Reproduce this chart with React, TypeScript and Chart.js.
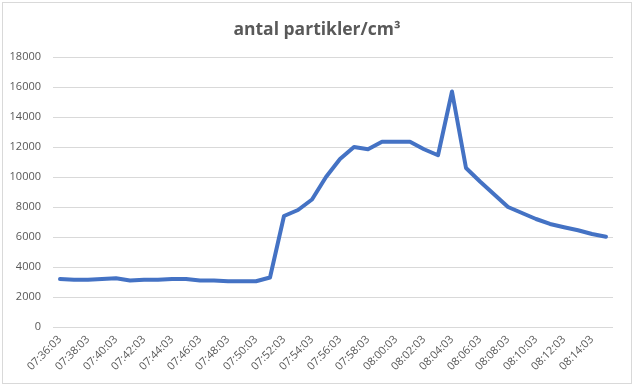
import React, { useEffect, useRef } from "react";
import { Chart, registerables } from "chart.js";

Chart.register(...registerables);

const times: string[] = [
  "07:36:03", "07:37:03", "07:38:03", "07:39:03", "07:40:03", "07:41:03", "07:42:03", "07:43:03",
  "07:44:03", "07:45:03", "07:46:03", "07:47:03", "07:48:03", "07:49:03", "07:50:03", "07:51:03",
  "07:52:03", "07:53:03", "07:54:03", "07:55:03", "07:56:03", "07:57:03", "07:58:03", "07:59:03",
  "08:00:03", "08:01:03", "08:02:03", "08:03:03", "08:04:03", "08:05:03", "08:06:03", "08:07:03",
  "08:08:03", "08:09:03", "08:10:03", "08:11:03", "08:12:03", "08:13:03", "08:14:03", "08:15:03",
];

const particles: number[] = [
  3200, 3150, 3150, 3200, 3250, 3100, 3150, 3150, 3200, 3200,
  3100, 3100, 3050, 3050, 3050, 3300, 7400, 7800, 8500, 10000,
  11200, 12000, 11850, 12350, 12350, 12350, 11850, 11450, 15700, 10600,
  9700, 8850, 8000, 7600, 7200, 6870, 6650, 6450, 6200, 6020,
];

const yTicks: number[] = [0, 2000, 4000, 6000, 8000, 10000, 12000, 14000, 16000, 18000];

const title = "antal partikler/cm³";

const framePlugin = {
  id: "chartFrame",
  beforeDraw(chart: any) {
    const ctx = chart.ctx;
    ctx.save();
    ctx.fillStyle = "#ffffff";
    ctx.fillRect(0, 0, chart.width, chart.height);
    ctx.strokeStyle = "#d9d9d9";
    ctx.lineWidth = 1;
    ctx.strokeRect(2.5, 2.5, 629, 381);
    ctx.fillStyle = "#595959";
    ctx.font = "bold 17.5px 'Open Sans', sans-serif";
    ctx.textAlign = "center";
    ctx.textBaseline = "middle";
    ctx.fillText(title, 317, 30);
    ctx.restore();
  },
};

export default function App() {
  const ref = useRef<HTMLCanvasElement | null>(null);

  useEffect(() => {
    document.body.style.margin = "0";
    if (!ref.current) return;
    const chart = new Chart(ref.current, {
      type: "line",
      data: {
        labels: times,
        datasets: [
          {
            label: title,
            data: particles,
            borderColor: "#4472c4",
            borderWidth: 4,
            pointRadius: 0,
            tension: 0,
            fill: false,
            borderCapStyle: "round",
            borderJoinStyle: "round",
          },
        ],
      },
      options: {
        animation: false,
        responsive: false,
        maintainAspectRatio: false,
        layout: { padding: { left: 0, right: 23, top: 57, bottom: 0 } },
        plugins: {
          legend: { display: false },
          tooltip: { enabled: false },
          title: { display: false },
        },
        scales: {
          x: {
            offset: true,
            grid: { display: false, drawTicks: false },
            border: { display: false },
            afterFit: (s: any) => {
              s.height = 62;
            },
            ticks: {
              autoSkip: false,
              maxRotation: 45,
              minRotation: 45,
              padding: 6,
              color: "#595959",
              font: { family: "'Open Sans', sans-serif", size: 11 },
              callback: (_v: any, i: number) => (i % 2 === 0 ? times[i] : ""),
            },
          },
          y: {
            min: 0,
            max: 18000,
            afterFit: (s: any) => {
              s.width = 53;
            },
            afterBuildTicks: (s: any) => {
              s.ticks = yTicks.map((v) => ({ value: v }));
            },
            grid: { color: "#d9d9d9", lineWidth: 1, drawTicks: false },
            border: { display: false },
            ticks: {
              padding: 12,
              color: "#595959",
              font: { family: "'Open Sans', sans-serif", size: 11 },
              callback: (v: any) => String(v),
            },
          },
        },
      },
      plugins: [framePlugin],
    });
    return () => chart.destroy();
  }, []);

  return (
    <div style={{ position: "absolute", left: 0, top: 0, width: 636, height: 389 }}>
      <canvas ref={ref} width={636} height={389} style={{ width: 636, height: 389, display: "block" }} />
    </div>
  );
}
